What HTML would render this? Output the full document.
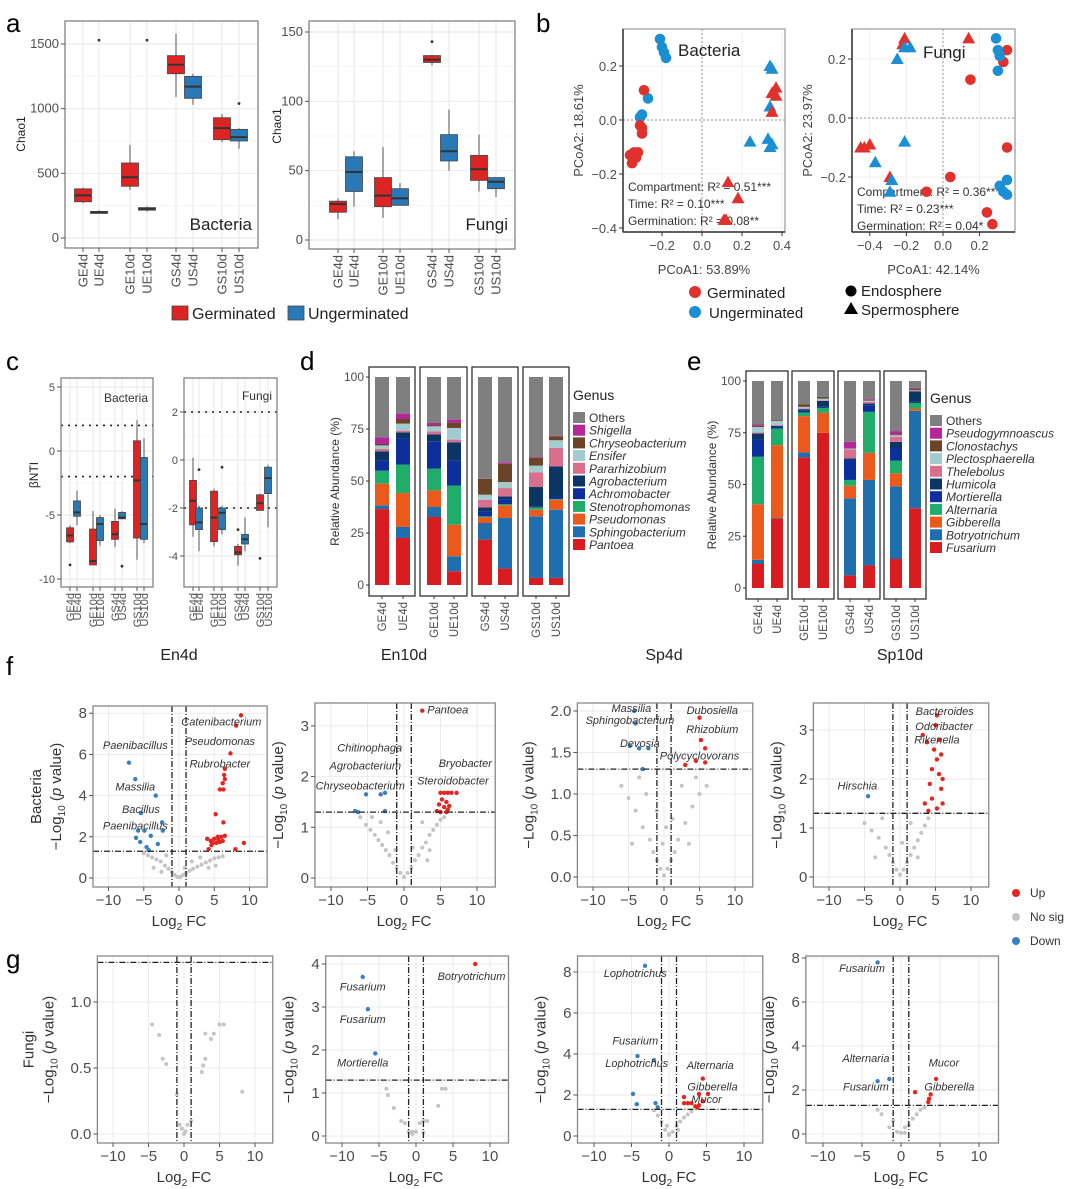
<!DOCTYPE html>
<html><head><meta charset="utf-8"><style>
html,body{margin:0;padding:0;background:#fff}
svg{display:block;font-family:"Liberation Sans",sans-serif}
</style></head><body>
<svg id="fig" width="1070" height="1189" viewBox="0 0 1070 1189" xmlns="http://www.w3.org/2000/svg"></svg>
<script>
// ---------- DATA ----------
const groups = ['GE4d','UE4d','GE10d','UE10d','GS4d','US4d','GS10d','US10d'];
// boxplot stats: [q1, median, q3, lowWhisker, highWhisker]
const chaoBac = [[280,330,380,270,390],[190,200,205,190,215],[400,470,580,370,720],[215,225,235,205,245],[1270,1340,1410,1090,1580],[1080,1170,1250,1030,1270],[760,850,930,740,960],[750,780,840,690,850]];
const chaoBacOut = [[1,1530],[3,1530],[7,1040]];
const chaoFun = [[20,26,28,15,30],[35,49,60,24,64],[24,32,45,16,67],[25,30,37,25,41],[128,130,133,126,133],[57,64,76,50,94],[43,51,61,35,76],[37,42,45,31,45]];
const chaoFunOut = [[4,143]];
const ntiBac = [[-7.1,-6.6,-6.0,-7.2,-5.8],[-5.1,-4.8,-3.9,-5.8,-3.1],[-8.9,-8.6,-6.1,-8.9,-4.7],[-7.0,-5.7,-5.2,-7.4,-5.0],[-6.9,-6.5,-5.5,-7.5,-4.5],[-5.3,-5.2,-4.8,-5.3,-4.7],[-6.8,-2.3,0.8,-8.5,2.4],[-6.9,-5.7,-0.5,-7.2,1.0]];
const ntiBacOut = [[0,-8.9],[5,-9.0]];
const ntiFun = [[-2.7,-1.7,-0.85,-3.2,0.1],[-2.9,-2.6,-2.0,-3.8,-1.9],[-3.4,-2.4,-1.3,-3.6,-1.2],[-2.9,-2.2,-2.0,-3.1,-1.9],[-3.95,-3.85,-3.6,-4.4,-3.5],[-3.5,-3.3,-3.1,-3.8,-2.4],[-2.1,-1.8,-1.45,-2.1,-1.4],[-1.4,-0.75,-0.3,-2.8,-0.2]];
const ntiFunOut = [[1,-0.4],[3,-0.3],[4,-2.9],[6,-4.1]];

// PCoA points: [pc1, pc2, germinated(1)/ungerminated(0), triangle(1)/circle(0)]
const pcoaBac = [[-0.21,0.30,0,0],[-0.20,0.27,0,0],[-0.19,0.25,0,0],[-0.18,0.23,0,0],[-0.27,0.08,0,0],[-0.31,0.01,0,0],[-0.30,0.02,0,0],
 [-0.29,0.11,1,0],[-0.31,-0.02,1,0],[-0.30,-0.03,1,0],[-0.30,-0.05,1,0],[-0.34,-0.12,1,0],[-0.33,-0.14,1,0],[-0.35,-0.16,1,0],[-0.36,-0.13,1,0],[-0.32,-0.12,1,0],
 [0.34,0.20,0,1],[0.35,0.19,0,1],[0.34,0.05,0,1],[0.24,-0.08,0,1],[0.33,-0.07,0,1],[0.34,-0.10,0,1],[0.35,-0.09,0,1],
 [0.37,0.12,1,1],[0.35,0.10,1,1],[0.37,0.09,1,1],[0.35,0.03,1,1],[0.13,-0.23,1,1],[0.18,-0.29,1,1],[0.11,-0.37,1,1],[0.12,-0.37,1,1]];
const pcoaFun = [[-0.21,0.27,1,1],[-0.22,0.25,1,1],[0.14,0.27,1,1],[-0.45,-0.10,1,1],[-0.43,-0.10,1,1],[-0.40,-0.09,1,1],[-0.29,-0.20,1,1],
 [-0.21,0.24,0,1],[-0.18,0.24,0,1],[-0.25,0.20,0,1],[-0.21,-0.08,0,1],[-0.37,-0.15,0,1],[-0.28,-0.21,0,1],[-0.29,-0.25,0,1],
 [0.35,0.23,1,0],[0.33,0.19,1,0],[0.15,0.13,1,0],[0.35,-0.10,1,0],[0.04,-0.20,1,0],[-0.09,-0.25,1,0],[0.24,-0.32,1,0],[0.27,-0.36,1,0],
 [0.29,0.27,0,0],[0.30,0.23,0,0],[0.31,0.21,0,0],[0.30,0.16,0,0],[0.35,-0.21,0,0],[0.31,-0.23,0,0],[0.33,-0.25,0,0],[0.35,-0.26,0,0]];

// stacked bars
const bacGenera = ['Pantoea','Sphingobacterium','Pseudomonas','Stenotrophomonas','Achromobacter','Agrobacterium','Pararhizobium','Ensifer','Chryseobacterium','Shigella','Others'];
const bacAbund = [
 [36.5,1.8,10.4,6.3,4.8,4.5,1.1,1.7,0.7,3.2,29],
 [22.6,5.3,16.3,13.7,12.5,3.0,0.8,3.4,2.2,2.6,17.6],
 [32.7,4.8,8.0,10.4,13.2,3.3,1.5,2.4,0.6,1.0,22.1],
 [6.6,7.2,15.2,18.8,12.0,8.8,1.3,5.6,2.4,1.6,20.5],
 [21.8,8.0,2.7,0.5,2.4,1.9,3.7,2.4,7.6,0.1,48.9],
 [7.9,24.3,6.1,0.6,2.4,1.3,4.0,2.9,8.8,0.7,41.0],
 [3.4,29.6,3.2,1.1,0.5,9.3,7.1,3.2,3.7,0.4,38.5],
 [3.4,32.8,4.8,0.3,1.0,14.7,8.9,3.7,1.9,0.3,28.2]];
const funGenera = ['Fusarium','Botryotrichum','Gibberella','Alternaria','Mortierella','Humicola','Thelebolus','Plectosphaerella','Clonostachys','Pseudogymnoascus','Others'];
const funAbund = [
 [11.6,2.0,26.8,23.0,8.3,2.9,0.5,2.7,0.5,0.7,21.0],
 [33.7,0.3,35.0,8.0,0.8,0.5,0.4,2.0,0.4,0.0,18.9],
 [63.1,2.4,17.5,1.8,0.8,0.8,0.3,0.8,1.3,0.0,11.2],
 [75.0,0.0,9.6,2.4,0.5,2.9,0.3,0.8,0.8,0.0,7.7],
 [6.1,37.2,6.1,2.8,9.9,0.5,4.3,0.5,0.0,3.2,29.4],
 [10.9,41.3,13.1,19.8,3.2,0.8,0.8,0.5,0.3,0.5,8.8],
 [14.0,35.0,6.4,6.1,5.9,3.2,2.4,0.8,0.5,1.5,24.2],
 [38.5,47.1,1.1,2.7,0.5,5.1,0.2,0.3,0.8,0.3,3.4]];
const stackColors = ['#d91c1f','#1f6fae','#ec5a1b','#1fae6a','#0c2f9b','#0b3565','#d86f8d','#a1cbce','#6a4427','#b3279a','#7f7f7f'];

// volcano series [log2FC, -log10 p]
const vEn4dUp = [[8.8,7.9],[8.1,7.4],[7.3,6.05],[6.5,5.3],[6.4,5.0],[6.5,4.8],[6.2,4.6],[6.3,4.3],[5.8,4.3],[5.2,3.1],[6.3,2.7],[4.0,1.9],[4.5,1.8],[5.0,1.9],[5.5,2.0],[6.0,2.0],[6.5,2.05],[4.8,1.7],[5.3,1.7],[5.8,1.75],[6.2,1.8],[4.2,1.4],[8.0,1.4],[9.2,1.7],[5.6,1.85],[4.6,1.6]];
const vEn4dDown = [[-7.1,5.6],[-6.2,4.8],[-3.3,4.0],[-5.4,3.15],[-2.4,2.7],[-5.8,2.3],[-4.9,2.3],[-4.0,2.05],[-6.1,1.95],[-5.5,1.75],[-4.6,1.5],[-3.0,1.65],[-2.3,2.3],[-4.3,1.35]];
const vEn4dNs = [[-5,1.2],[-4.4,1.1],[-3.8,1.0],[-3.2,0.9],[-2.6,0.8],[-2.0,0.6],[-1.5,0.45],[-1,0.3],[-0.6,0.15],[-0.2,0.05],[0.2,0.05],[0.6,0.15],[1,0.25],[1.5,0.35],[2,0.45],[2.6,0.55],[3.2,0.65],[3.8,0.75],[4.4,0.85],[5,0.95],[5.6,1.0],[6.2,1.05],[-1.8,1.1],[-2.5,0.3],[0.8,0.5],[1.8,0.8],[3.0,1.0],[4.2,0.5],[5.2,0.6],[-3.6,0.5]];
const vEn10dUp = [[2.5,3.3],[5.0,1.68],[5.5,1.68],[6.0,1.68],[6.5,1.68],[7.2,1.68],[5.2,1.55],[5.8,1.5],[4.8,1.45],[5.5,1.4],[6.2,1.42],[4.5,1.32],[5.0,1.3],[5.8,1.3],[6.0,1.35]];
const vEn10dDown = [[-6.7,1.32],[-6.3,1.3],[-5.2,1.65],[-3.2,1.65],[-2.6,1.68],[-2.6,1.32]];
const vEn10dNs = [[-6,1.2],[-5.2,1.05],[-4.6,0.95],[-4,0.85],[-3.5,0.75],[-3,0.65],[-2.5,0.55],[-2,0.45],[-1.5,0.3],[-1,0.2],[-0.5,0.1],[0,0.02],[0.5,0.1],[1,0.2],[1.5,0.35],[2,0.45],[2.5,0.6],[3,0.7],[3.5,0.85],[4,0.95],[4.5,1.05],[5,1.15],[5.5,1.2],[-4.4,1.2],[-3.2,1.1],[2.5,1.1],[3.5,0.55],[-2.2,0.9],[1.2,0.6],[-1.2,0.55],[3.2,0.35]];
const vSp4dUp = [[5.0,1.92],[5.2,1.65],[5.8,1.55],[4.5,1.4],[5.8,1.38],[3.0,1.35]];
const vSp4dDown = [[-4.2,2.0],[-4.0,1.85],[-3.5,1.55],[-2.2,1.55],[-3.0,1.3],[-4.8,1.58]];
const vSp4dNs = [[-6,1.1],[-5,0.95],[-4,0.8],[-3,0.6],[-2,0.45],[-1.5,0.3],[-1,0.2],[-0.5,0.1],[0,0.02],[0.5,0.1],[1,0.2],[1.5,0.3],[2,0.45],[3,0.65],[4,0.85],[5,1.0],[6,1.1],[-3.5,1.2],[-2.5,1.0],[2.5,1.1],[4.5,1.2],[-1,0.8],[1.2,0.7],[3.5,0.4],[-4.5,0.4],[-0.2,0.4],[0.3,0.6]];
const vSp10dUp = [[5.2,3.3],[5.0,3.1],[5.5,2.8],[4.8,2.6],[5.2,2.4],[5.8,2.5],[4.5,2.2],[5.5,2.1],[6.0,2.0],[4.2,1.9],[5.8,1.8],[4.5,1.6],[3.5,1.5],[5.2,1.4],[6,1.5],[4,1.35],[3.2,2.9],[3.8,2.75]];
const vSp10dDown = [[-4.5,1.65]];
const vSp10dNs = [[-5,1.1],[-4,0.95],[-3,0.8],[-2,0.6],[-1.5,0.45],[-1,0.3],[-0.5,0.15],[0,0.05],[0.5,0.15],[1,0.3],[1.5,0.45],[2,0.6],[2.5,0.75],[3,0.9],[3.5,1.05],[4,1.2],[-2.5,1.2],[1.5,1.1],[2.5,0.4],[-3.5,0.4],[0.3,0.7]];
const vG1Ns = [[-4.5,0.83],[-3.5,0.75],[-3,0.57],[-2.5,0.53],[-1,0.3],[-0.6,0.07],[0.2,0.02],[0.5,0.07],[1,0.1],[2.5,0.47],[2.7,0.52],[3,0.57],[3,0.76],[3.8,0.72],[4.2,0.76],[5,0.83],[5.6,0.83],[8.2,0.32],[0,0.0],[-0.3,0.04]];
const vG2Up = [[8,4.0]];
const vG2Down = [[-7.2,3.7],[-6.5,2.95],[-5.5,1.92]];
const vG2Ns = [[-4,1.1],[-3.8,0.95],[-3,0.65],[-2,0.35],[-1.5,0.3],[-1,0.1],[-0.5,0.1],[0,0.1],[0.5,0.3],[1,0.35],[1.5,0.35],[3,0.7],[3.5,1.1],[4,1.1],[-0.5,0.05],[1,0.08]];
const vG3Up = [[4.5,2.8],[2,1.9],[4,2.05],[5.2,2.05],[2,1.6],[2.5,1.6],[3,1.6],[3.5,1.45],[4,1.5],[3.8,1.4],[4.5,1.7]];
const vG3Down = [[-3.2,8.3],[-4.2,3.9],[-2,3.7],[-4.8,2.05],[-4.3,1.55],[-1.8,1.6],[-1.5,1.4]];
const vG3Ns = [[-1.5,1.0],[-1,0.7],[-0.5,0.3],[0,0.1],[0.5,0.2],[1,0.5],[1.5,0.7],[2,0.9],[2.5,1.05],[3,1.2],[-2,1.25],[0,0.05],[-0.3,0.5],[1.2,0.3]];
const vG4Up = [[4.5,2.5],[1.8,1.9],[3.8,1.8],[3.5,1.45],[3.6,1.6]];
const vG4Down = [[-3,7.8],[-3,2.4],[-1.5,2.5]];
const vG4Ns = [[-3,1.1],[-2.5,0.9],[-1,0.6],[-0.5,0.1],[0,0.05],[0.5,0.3],[1,0.4],[1.5,0.7],[2,0.9],[2.5,1.1],[3,1.2],[-1.5,0.3],[0.5,0.05]];

// ---------- HELPERS ----------
const NS='http://www.w3.org/2000/svg';
const svg=document.getElementById('fig');
const RED='#dc2424', BLUE='#2a79b6', GRID='#ebebeb', TICK='#4d4d4d';
function mk(tag,attrs,name,parent){
  const el=document.createElementNS(NS,tag);
  for(const k in attrs) el.setAttribute(k,attrs[k]);
  
  
  (parent||svg).appendChild(el); return el;
}
function T(x,y,s,size,name,o){
  o=o||{};
  const a={x:x,y:y,'font-size':size,fill:o.fill||'#222','text-anchor':o.anchor||'start'};
  if(o.italic) a['font-style']='italic';
  if(o.rot!==undefined) a.transform='rotate('+o.rot+' '+x+' '+y+')';
  if(o.mid) a['dominant-baseline']='middle';
  const t=mk('text',a,name); t.textContent=s; return t;
}
function lin(d0,d1,r0,r1){return v=>r0+(v-d0)*(r1-r0)/(d1-d0);}
function line(x1,y1,x2,y2,name,st,w,dash){const a={x1:x1,y1:y1,x2:x2,y2:y2,stroke:st||'#333','stroke-width':w||1};if(dash)a['stroke-dasharray']=dash;return mk('line',a,name);}

// boxplot panel
function boxPanel(cfg){
  const y=lin(cfg.d0,cfg.d1,cfg.r0,cfg.r1);
  mk('rect',{x:cfg.x0,y:cfg.y0,width:cfg.x1-cfg.x0,height:cfg.y1-cfg.y0,fill:'#fff'},cfg.name+'-background');
  cfg.ticks.forEach(t=>{line(cfg.x0,y(t),cfg.x1,y(t),cfg.name+'-gridline',GRID,1.2);});
  cfg.minor.forEach(t=>{line(cfg.x0,y(t),cfg.x1,y(t),cfg.name+'-minor-gridline','#f4f4f4',0.8);});
  cfg.xs.forEach(x=>line(x,cfg.y0,x,cfg.y1,cfg.name+'-gridline',GRID,1.2));
  (cfg.hlines||[]).forEach(h=>line(cfg.x0,y(h),cfg.x1,y(h),cfg.name+'-threshold-line','#222',1.6,'2,5'));
  cfg.stats.forEach((s,i)=>{
    const x=cfg.xs[i], w=cfg.bw, col=(i%2===0)?RED:BLUE;
    line(x,y(s[3]),x,y(s[4]),'whisker-'+groups[i],'#555',1);
    mk('rect',{x:x-w/2,y:y(s[2]),width:w,height:Math.max(1,y(s[0])-y(s[2])),fill:col,stroke:'#444','stroke-width':0.8},'box-'+groups[i]);
    line(x-w/2,y(s[1]),x+w/2,y(s[1]),'median-'+groups[i],'#333',2);
  });
  cfg.out.forEach(o=>mk('circle',{cx:cfg.xs[o[0]],cy:y(o[1]),r:1.4,fill:'#333'},'outlier-point'));
  mk('rect',{x:cfg.x0,y:cfg.y0,width:cfg.x1-cfg.x0,height:cfg.y1-cfg.y0,fill:'none',stroke:'#777','stroke-width':1.2},cfg.name+'-border');
  cfg.ticks.forEach(t=>{line(cfg.x0-4,y(t),cfg.x0,y(t),'y-tick','#555');T(cfg.x0-6,y(t)+4,String(t),cfg.tf,'y-tick-label',{anchor:'end',fill:TICK});});
  cfg.xs.forEach((x,i)=>{line(x,cfg.y1,x,cfg.y1+4,'x-tick','#555');T(x+cfg.tf*0.35,cfg.y1+6,groups[i],cfg.tf,'x-tick-label-'+groups[i],{anchor:'end',rot:-90,fill:TICK});});
}

// ---------- PANEL A ----------
T(6,32,'a',26,'panel-label-a',{fill:'#000'});
boxPanel({name:'chao1-bacteria',x0:65,y0:21,x1:258,y1:248,d0:0,d1:1500,r0:238,r1:44,ticks:[0,500,1000,1500],minor:[250,750,1250],xs:[83,99,130,147,176,193,222,239],bw:17,stats:chaoBac,out:chaoBacOut,tf:13});
T(25,134,'Chao1',12,'y-axis-title-chao1-bacteria',{rot:-90,anchor:'middle'});
T(252,230,'Bacteria',17,'panel-title-bacteria',{anchor:'end'});
boxPanel({name:'chao1-fungi',x0:309,y0:21,x1:515,y1:249,d0:0,d1:150,r0:240,r1:32,ticks:[0,50,100,150],minor:[25,75,125],xs:[338,354,383,400,432,449,479,496],bw:17,stats:chaoFun,out:chaoFunOut,tf:13});
T(281,126,'Chao1',12,'y-axis-title-chao1-fungi',{rot:-90,anchor:'middle'});
T(508,230,'Fungi',17,'panel-title-fungi',{anchor:'end'});
mk('rect',{x:172,y:306,width:16,height:14,fill:RED,stroke:'#444','stroke-width':0.8},'legend-swatch-germinated');
T(192,319,'Germinated',16,'legend-label-germinated');
mk('rect',{x:288,y:306,width:16,height:14,fill:BLUE,stroke:'#444','stroke-width':0.8},'legend-swatch-ungerminated');
T(308,319,'Ungerminated',16,'legend-label-ungerminated');

// ---------- PANEL B ----------
T(536,32,'b',26,'panel-label-b',{fill:'#000'});
function pcoa(cfg){
  const x=lin(0,1,cfg.x0d,cfg.x0d+cfg.xs), y=lin(0,1,cfg.y0d,cfg.y0d-cfg.ys);
  mk('rect',{x:cfg.bx0,y:cfg.by0,width:cfg.bx1-cfg.bx0,height:cfg.by1-cfg.by0,fill:'#fff'},cfg.name+'-background');
  cfg.xt.forEach(t=>line(x(t),cfg.by0,x(t),cfg.by1,'gridline','#f0f0f0'));
  cfg.yt.forEach(t=>line(cfg.bx0,y(t),cfg.bx1,y(t),'gridline','#f0f0f0'));
  line(x(0),cfg.by0,x(0),cfg.by1,'zero-line-vertical','#999',1,'2,2');
  line(cfg.bx0,y(0),cfg.bx1,y(0),'zero-line-horizontal','#999',1,'2,2');
  T(cfg.lx,cfg.ly,cfg.title,17,cfg.name+'-title');
  cfg.stat.forEach((s,i)=>T(cfg.bx0+5,cfg.sy+i*17,s,12,'permanova-stat',{fill:'#333'}));
  cfg.pts.forEach(p=>{
    const cx=x(p[0]),cy=y(p[1]),c=p[2]?'#e0312c':'#1b8fd4';
    if(p[3]) mk('polygon',{points:(cx)+','+(cy-6.5)+' '+(cx-6.5)+','+(cy+5)+' '+(cx+6.5)+','+(cy+5),fill:c},'pcoa-point-triangle');
    else mk('circle',{cx:cx,cy:cy,r:5.3,fill:c},'pcoa-point-circle');
  });
  mk('rect',{x:cfg.bx0,y:cfg.by0,width:cfg.bx1-cfg.bx0,height:cfg.by1-cfg.by0,fill:'none',stroke:'#999','stroke-width':1.2},cfg.name+'-border');
  line(cfg.bx0,cfg.by0,cfg.bx0,cfg.by1,'y-axis-line','#333',1.5);
  line(cfg.bx0,cfg.by1,cfg.bx1,cfg.by1,'x-axis-line','#333',1.5);
  cfg.xt.forEach(t=>{line(x(t),cfg.by1,x(t),cfg.by1+4,'x-tick');T(x(t),cfg.by1+18,t.toFixed(1).replace('-','−'),13,'x-tick-label',{anchor:'middle',fill:TICK});});
  cfg.yt.forEach(t=>{line(cfg.bx0-4,y(t),cfg.bx0,y(t),'y-tick');T(cfg.bx0-6,y(t)+5,t.toFixed(1).replace('-','−'),13,'y-tick-label',{anchor:'end',fill:TICK});});
  T((cfg.bx0+cfg.bx1)/2,cfg.by1+42,cfg.xtitle,13,'x-axis-title',{anchor:'middle',fill:'#444'});
  T(cfg.bx0-40,(cfg.by0+cfg.by1)/2,cfg.ytitle,13,'y-axis-title',{anchor:'middle',rot:-90,fill:'#444'});
}
pcoa({name:'pcoa-bacteria',bx0:623,by0:29,bx1:785,by1:232,x0d:702,xs:200,y0d:120,ys:270,xt:[-0.2,0,0.2,0.4],yt:[-0.4,-0.2,0,0.2],pts:pcoaBac,title:'Bacteria',lx:678,ly:56,
  stat:['Compartment:  R² = 0.51***','Time:  R² = 0.10***','Germination:  R² = 0.08**'],sy:191,xtitle:'PCoA1: 53.89%',ytitle:'PCoA2: 18.61%'});
pcoa({name:'pcoa-fungi',bx0:852,by0:29,bx1:1015,by1:232,x0d:943,xs:183,y0d:118,ys:295,xt:[-0.4,-0.2,0,0.2],yt:[-0.2,0,0.2],pts:pcoaFun,title:'Fungi',lx:923,ly:58,
  stat:['Compartment:  R² = 0.36***','Time:  R² = 0.23***','Germination:  R² = 0.04*'],sy:196,xtitle:'PCoA1: 42.14%',ytitle:'PCoA2: 23.97%'});
mk('circle',{cx:695,cy:292,r:6,fill:'#e0312c'},'legend-dot-germinated');
T(707,298,'Germinated',15,'legend-label-germinated-b');
mk('circle',{cx:695,cy:312,r:6,fill:'#1b8fd4'},'legend-dot-ungerminated');
T(709,318,'Ungerminated',15,'legend-label-ungerminated-b');
mk('circle',{cx:851,cy:291,r:5.5,fill:'#000'},'legend-dot-endosphere');
T(861,296,'Endosphere',15,'legend-label-endosphere');
mk('polygon',{points:'851,302 844,314 858,314',fill:'#000'},'legend-triangle-spermosphere');
T(861,315,'Spermosphere',15,'legend-label-spermosphere');

// ---------- PANEL C ----------
T(6,370,'c',26,'panel-label-c',{fill:'#000'});
boxPanel({name:'nti-bacteria',x0:61,y0:378,x1:153,y1:587,d0:0,d1:5,r0:451,r1:387,ticks:[-10,-5,0,5],minor:[-7.5,-2.5,2.5],xs:[70,77,93,100,115,122,137,144],bw:7,stats:ntiBac,out:ntiBacOut,tf:11,hlines:[2,-2]});
T(148,402,'Bacteria',12,'panel-title-nti-bacteria',{anchor:'end',fill:'#333'});
T(38,475,'βNTI',12,'y-axis-title-bnti',{rot:-90,anchor:'middle'});
boxPanel({name:'nti-fungi',x0:184,y0:378,x1:277,y1:587,d0:0,d1:2,r0:460,r1:412,ticks:[-4,-2,0,2],minor:[-3,-1,1],xs:[193,199,214,222,238,245,260,268],bw:7,stats:ntiFun,out:ntiFunOut,tf:11,hlines:[2,-2]});
T(272,400,'Fungi',12,'panel-title-nti-fungi',{anchor:'end',fill:'#333'});

// ---------- PANELS D / E ----------
function stacked(cfg){
  const y=lin(0,100,cfg.yb,cfg.yt);
  cfg.facets.forEach((f,i)=>mk('rect',{x:f[0],y:cfg.fy0,width:f[1]-f[0],height:cfg.fy1-cfg.fy0,fill:'#fff',stroke:'#333','stroke-width':1.3},cfg.name+'-facet-'+(i+1)));
  cfg.data.forEach((row,i)=>{
    let acc=0; const bx=cfg.bars[i];
    row.forEach((v,j)=>{ if(v<=0) return;
      mk('rect',{x:bx,y:y(acc+v),width:cfg.bw,height:y(acc)-y(acc+v),fill:stackColors[j]},'bar-'+groups[i]+'-'+cfg.genera[j]);
      acc+=v;});
    line(bx+cfg.bw/2,cfg.fy1,bx+cfg.bw/2,cfg.fy1+3,'x-tick');
    T(bx+cfg.bw/2+4,cfg.fy1+6,groups[i],11.5,'x-tick-label-'+groups[i],{anchor:'end',rot:-90,fill:TICK});
  });
  [0,25,50,75,100].forEach(t=>{line(cfg.facets[0][0]-3,y(t),cfg.facets[0][0],y(t),'y-tick');T(cfg.facets[0][0]-5,y(t)+4,String(t),12,'y-tick-label',{anchor:'end',fill:TICK});});
  T(cfg.facets[0][0]-30,(cfg.fy0+cfg.fy1)/2,'Relative Abundance (%)',12,'y-axis-title-relative-abundance',{rot:-90,anchor:'middle',fill:'#333'});
  T(cfg.lx,cfg.ly,'Genus',14,'legend-title-genus');
  for(let k=0;k<11;k++){
    const j=10-k, yy=cfg.ly+12+k*12.7;
    mk('rect',{x:cfg.lx,y:yy,width:12,height:11,fill:stackColors[j]},'legend-swatch-'+cfg.genera[j]);
    T(cfg.lx+16,yy+10,cfg.genera[j],12,'legend-label-'+cfg.genera[j],{italic:j!==10,fill:'#333'});
  }
}
T(300,370,'d',26,'panel-label-d',{fill:'#000'});
stacked({name:'bacteria-stack',data:bacAbund,genera:bacGenera,yb:585,yt:377,fy0:367,fy1:596,facets:[[369,415],[420,467],[472,518],[523,569]],bars:[375,396,427,447,478,498,529,549],bw:14,lx:573,ly:400});
T(687,370,'e',26,'panel-label-e',{fill:'#000'});
stacked({name:'fungi-stack',data:funAbund,genera:funGenera,yb:588,yt:381,fy0:371,fy1:599,facets:[[746,788],[792,834],[838,880],[884,926]],bars:[752,771,798,817,844,863,890,909],bw:12,lx:930,ly:403});

// ---------- PANELS F / G (volcano) ----------
function volcano(cfg){
  const x=lin(0,1,cfg.x0,cfg.x0+cfg.xs), y=lin(0,1,cfg.y0,cfg.y0-cfg.ys);
  const L=x(-12.2),R=x(12.5);
  mk('rect',{x:L,y:cfg.top,width:R-L,height:cfg.bot-cfg.top,fill:'#fff'},cfg.name+'-background');
  [-10,-5,0,5,10].forEach(t=>line(x(t),cfg.top,x(t),cfg.bot,'gridline',GRID));
  cfg.yt.forEach(t=>line(L,y(t),R,y(t),'gridline',GRID));
  cfg.ns.forEach(p=>mk('circle',{cx:x(p[0]),cy:y(p[1]),r:2,fill:'#c4c4c4'},'point-nosig'));
  (cfg.up||[]).forEach(p=>mk('circle',{cx:x(p[0]),cy:y(p[1]),r:2.2,fill:'#e3261f'},'point-up'));
  (cfg.down||[]).forEach(p=>mk('circle',{cx:x(p[0]),cy:y(p[1]),r:2.2,fill:'#3a7fc1'},'point-down'));
  line(x(-1),cfg.top,x(-1),cfg.bot,'fc-threshold-left','#222',1.3,'6,2,1,2');
  line(x(1),cfg.top,x(1),cfg.bot,'fc-threshold-right','#222',1.3,'6,2,1,2');
  line(L,y(1.3),R,y(1.3),'p-threshold','#222',1.3,'6,2,1,2');
  (cfg.labels||[]).forEach(l=>T(x(l[1]),y(l[2]),l[0],11,'gene-label-'+l[0].toLowerCase(),{italic:true,anchor:'middle',mid:true,fill:'#333'}));
  mk('rect',{x:L,y:cfg.top,width:R-L,height:cfg.bot-cfg.top,fill:'none',stroke:'#888','stroke-width':1.3},cfg.name+'-border');
  [-10,-5,0,5,10].forEach(t=>{line(x(t),cfg.bot,x(t),cfg.bot+4,'x-tick','#555');T(x(t),cfg.bot+18,(t<0?'−':'')+Math.abs(t),15,'x-tick-label',{anchor:'middle',fill:TICK});});
  cfg.yt.forEach(t=>{line(L-4,y(t),L,y(t),'y-tick','#555');T(L-6,y(t)+5,cfg.fmt?t.toFixed(1):String(t),15,'y-tick-label',{anchor:'end',fill:TICK});});
  const xt=T(x(0),cfg.bot+39,'Log',15,'x-axis-title-log2fc',{anchor:'middle',fill:'#333'});
  const s1=document.createElementNS(NS,'tspan');s1.setAttribute('font-size','10');s1.setAttribute('dy','4');s1.textContent='2';xt.appendChild(s1);
  const s2=document.createElementNS(NS,'tspan');s2.setAttribute('dy','-4');s2.textContent=' FC';xt.appendChild(s2);
  const yx=L-(cfg.fmt?44:32), yy=(cfg.top+cfg.bot)/2;
  const yl=T(yx,yy,'−Log',15,'y-axis-title-neglog10p',{anchor:'middle',rot:-90,fill:'#333'});
  const a=document.createElementNS(NS,'tspan');a.setAttribute('font-size','10');a.setAttribute('dy','4');a.textContent='10';yl.appendChild(a);
  const b=document.createElementNS(NS,'tspan');b.setAttribute('dy','-4');b.textContent=' (';yl.appendChild(b);
  const c=document.createElementNS(NS,'tspan');c.setAttribute('font-style','italic');c.textContent='p';yl.appendChild(c);
  const d=document.createElementNS(NS,'tspan');d.textContent=' value)';yl.appendChild(d);
  if(cfg.title) T(x(0),660,cfg.title,16,'facet-title-'+cfg.title.toLowerCase(),{anchor:'middle'});
  if(cfg.row) T(yx-20,yy,cfg.row,15,'row-label-'+cfg.row.toLowerCase(),{anchor:'middle',rot:-90,fill:'#333'});
}
T(6,675,'f',26,'panel-label-f',{fill:'#000'});
volcano({name:'volcano-en4d',title:'En4d',row:'Bacteria',x0:179,xs:7.05,y0:878,ys:20.6,top:706,bot:887,yt:[0,2,4,6,8],up:vEn4dUp,down:vEn4dDown,ns:vEn4dNs,
 labels:[['Catenibacterium',6.0,7.55],['Pseudomonas',5.8,6.6],['Rubrobacter',5.8,5.5],['Paenibacillus',-6.2,6.4],['Massilia',-6.2,4.4],['Bacillus',-5.4,3.3],['Paenibacillus',-6.2,2.5]]});
volcano({name:'volcano-en10d',title:'En10d',x0:404,xs:7.3,y0:878,ys:50.7,top:703,bot:887,yt:[0,1,2,3],up:vEn10dUp,down:vEn10dDown,ns:vEn10dNs,
 labels:[['Pantoea',6.0,3.3],['Chitinophaga',-4.7,2.55],['Agrobacterium',-5.3,2.2],['Chryseobacterium',-6.0,1.8],['Bryobacter',8.4,2.25],['Steroidobacter',6.7,1.9]]});
volcano({name:'volcano-sp4d',title:'Sp4d',x0:664,xs:7.1,y0:877,ys:83,top:703,bot:887,yt:[0,0.5,1,1.5,2],fmt:true,up:vSp4dUp,down:vSp4dDown,ns:vSp4dNs,
 labels:[['Massilia',-4.6,2.02],['Sphingobacterium',-4.8,1.88],['Devosia',-3.4,1.6],['Dubosiella',6.8,2.0],['Rhizobium',6.8,1.77],['Polycyclovorans',5.0,1.45]]});
volcano({name:'volcano-sp10d',title:'Sp10d',x0:900,xs:7.1,y0:877,ys:49,top:703,bot:887,yt:[0,1,2,3],up:vSp10dUp,down:vSp10dDown,ns:vSp10dNs,
 labels:[['Bacteroides',6.3,3.37],['Odoribacter',6.2,3.06],['Rikenella',5.2,2.78],['Hirschia',-6.0,1.84]]});
[['Up','#e3261f',893],['No sig','#c4c4c4',917],['Down','#3a7fc1',941]].forEach(l=>{
  mk('circle',{cx:1016,cy:l[2],r:4,fill:l[1]},'legend-dot-'+l[0].toLowerCase().replace(' ','-'));
  T(1030,l[2]+4,l[0],12,'legend-label-'+l[0].toLowerCase().replace(' ','-'),{fill:'#333'});
});
T(6,968,'g',26,'panel-label-g',{fill:'#000'});
volcano({name:'volcano-g-en4d',row:'Fungi',x0:184,xs:7.1,y0:1134,ys:132,top:956,bot:1143,yt:[0,0.5,1],fmt:true,ns:vG1Ns});
volcano({name:'volcano-g-en10d',x0:416,xs:7.4,y0:1136,ys:43,top:956,bot:1143,yt:[0,1,2,3,4],up:vG2Up,down:vG2Down,ns:vG2Ns,
 labels:[['Fusarium',-7.2,3.45],['Fusarium',-7.2,2.7],['Mortierella',-7.2,1.68],['Botryotrichum',7.5,3.7]]});
volcano({name:'volcano-g-sp4d',x0:669,xs:7.5,y0:1136,ys:20.5,top:956,bot:1143,yt:[0,2,4,6,8],up:vG3Up,down:vG3Down,ns:vG3Ns,
 labels:[['Lophotrichus',-4.5,7.9],['Fusarium',-4.5,4.6],['Lophotrichus',-4.3,3.5],['Alternaria',5.5,3.4],['Gibberella',5.8,2.35],['Mucor',5.0,1.75]]});
volcano({name:'volcano-g-sp10d',x0:901,xs:7.8,y0:1134,ys:22,top:956,bot:1143,yt:[0,2,4,6,8],up:vG4Up,down:vG4Down,ns:vG4Ns,
 labels:[['Fusarium',-5.0,7.5],['Alternaria',-4.5,3.4],['Fusarium',-4.5,2.1],['Mucor',5.5,3.2],['Gibberella',6.2,2.1]]});
</script>
</body></html>
